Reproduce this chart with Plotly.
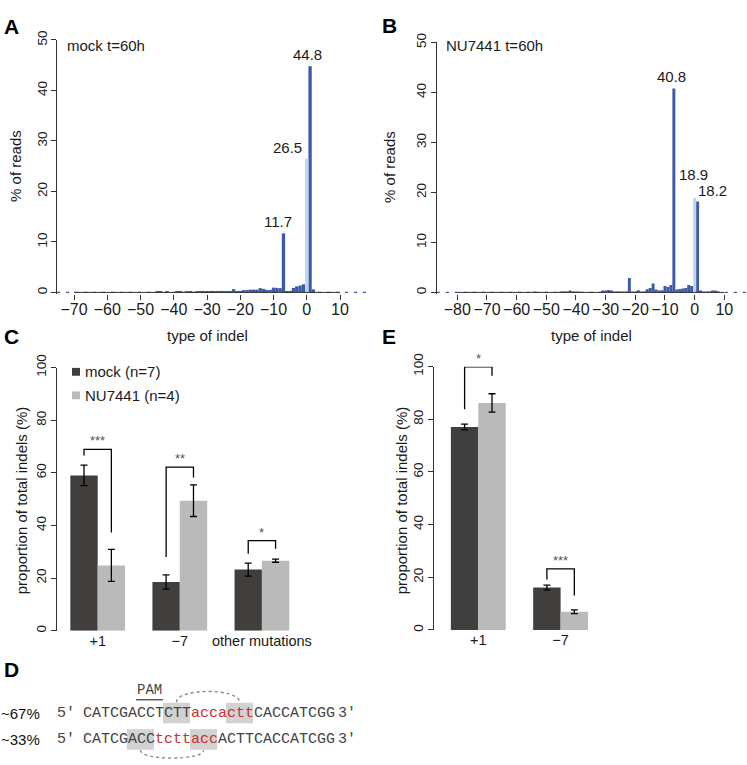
import plotly.graph_objects as go

W, H = 747, 765
FONT = "Liberation Sans, Arial, Helvetica, sans-serif"
MONO = "Liberation Mono, Courier New, monospace"
DARK_BLUE = "#3d5aa8"
LIGHT_BLUE = "#bcd6ec"
DARK_GREY = "#403f3d"
LIGHT_GREY = "#bababa"
TXT = "#1a1a1a"
AX = "#333333"
RED = "#cc2f2f"

# ---------------- data ----------------
# Panel A: mock t=60h, % of reads per indel size
a_sizes = [-45, -44, -43, -42, -41, -40, -39, -38, -37, -36,
           -35, -34, -33, -32, -31, -30, -29, -28, -27, -26,
           -25, -24, -23, -22, -21, -20, -19, -18, -17, -16,
           -15, -14, -13, -12, -11, -10, -9, -8, -7, -6,
           -5, -4, -3, -2, -1, 1, 2]
a_pct = [0.1, 0.1, 0.05, 0.1, 0.0, 0.05, 0.1, 0.1, 0.0, 0.1,
         0.1, 0.05, 0.15, 0.15, 0.2, 0.2, 0.1, 0.15, 0.2, 0.3,
         0.25, 0.25, 0.2, 0.65, 0.3, 0.3, 0.45, 0.45, 0.55, 0.55,
         0.55, 0.85, 0.7, 0.5, 0.5, 0.95, 0.9, 0.85, 11.7, 0.25,
         0.3, 0.9, 1.2, 1.35, 1.6, 44.8, 0.6]
a_zero_pct = 26.5

# Panel B: NU7441 t=60h
b_sizes = [-54, -45, -44, -43, -42, -41, -40, -39,
           -31, -30, -29, -28, -27, -26, -25, -24, -23,
           -22, -21, -20, -19, -18, -17, -16, -15, -14, -13, -12,
           -11, -10, -9, -8, -7, -6, -5, -4, -3, -2, -1,
           1, 2, 3, 4, 5, 6, 7, 8]
b_pct = [0.1, 0.1, 0.1, 0.15, 0.3, 0.1, 0.1, 0.05,
         0.3, 0.4, 0.5, 0.3, 0.2, 0.2, 0.2, 0.2, 0.2,
         2.9, 0.1, 0.2, 0.45, 0.2, 0.2, 0.65, 0.9, 1.8, 0.6, 0.4,
         0.45, 1.3, 1.1, 1.5, 40.8, 0.6, 0.7, 0.8, 0.9, 1.5, 1.3,
         18.2, 0.25, 0.1, 0.1, 0.05, 0.25, 0.25, 0.1]
b_zero_pct = 18.9

a_xticks = [-70, -60, -50, -40, -30, -20, -10, 0, 10]
b_xticks = [-80, -70, -60, -50, -40, -30, -20, -10, 0, 10]
hist_yticks = [0, 10, 20, 30, 40, 50]

# Panel C
c_categories = ["+1", "\u22127", "other mutations"]
c_mock = [59.0, 18.5, 23.2]
c_mock_err = [3.9, 2.7, 2.5]
c_nu = [24.8, 49.4, 26.6]
c_nu_err = [6.1, 6.0, 0.6]
c_sig_left = [66.6, 28.0, 29.2]
c_sig_top = [68.9, 62.2, 34.2]
c_sig_right = [37.3, 58.2, 31.1]
c_sig_label = ["***", "**", "*"]

# Panel E
e_categories = ["+1", "\u22127"]
e_mock = [77.1, 16.1]
e_mock_err = [1.1, 0.9]
e_nu = [86.2, 6.9]
e_nu_err = [3.5, 0.7]
e_sig_left = [83.8, 19.2]
e_sig_top = [99.9, 23.2]
e_sig_right = [96.5, 13.1]
e_sig_label = ["*", "***"]

prop_yticks = [0, 20, 40, 60, 80, 100]
series_names = ["mock (n=7)", "NU7441 (n=4)"]

# Panel D
d_pct = ["~67%", "~33%"]
d_seqs = ["CATCGACCTCTTaccacttCACCATCGG", "CATCGACCtcttaccACTTCACCATCGG"]
d_boxes = [[(9, 12), (16, 19)], [(5, 8), (12, 15)]]
d_pam = (6, 9)


# ---------------- helpers ----------------
def X(px):
    return px / W


def Y(py):
    return 1 - py / H


def span(p0, v0, p1, v1, r0, r1):
    s = (p1 - p0) / (v1 - v0)
    return p0 + (r0 - v0) * s, p0 + (r1 - v0) * s


def minus(v):
    return str(v).replace("-", "\u2212")


fig = go.Figure()
ann = []
shapes = []

# ranges / domains (pixel calibrations)
a_xr = [-75.1, 19.0]
a_xd = span(74, -70, 340, 10, *a_xr)
a_yr = [-0.3, 50]
a_yd = span(285, 0, 27.5, 50, *a_yr)

b_xr = [-86.9, 17.6]
b_xd = span(457.3, -80, 724.3, 10, *b_xr)
b_yr = [-0.3, 50]
b_yd = span(285, 0, 30, 50, *b_yr)

c_xr = [-0.5, 3.3]
c_xd = span(97.7, 0, 179.8, 1, *c_xr)
c_yr = [0, 100]
c_yd = span(630, 0, 361.7, 100, *c_yr)

e_xr = [-0.54, 3.2]
e_xd = span(478.3, 0, 560.6, 1, *e_xr)
e_yr = [0, 100]
e_yd = span(629.3, 0, 360.7, 100, *e_yr)

# ---------------- histograms ----------------
for ax, sizes, pct, zero, xr in [("", a_sizes, a_pct, a_zero_pct, a_xr),
                                 ("2", b_sizes, b_pct, b_zero_pct, b_xr)]:
    fig.add_trace(go.Scatter(x=xr, y=[0, 0], mode="lines",
                             line=dict(color=DARK_BLUE, width=1.3, dash="3px,6px"),
                             xaxis="x" + ax, yaxis="y" + ax, hoverinfo="skip"))
    fig.add_trace(go.Bar(x=sizes, y=pct, width=1, offset=-0.5,
                         marker=dict(color=DARK_BLUE, line=dict(width=0)),
                         xaxis="x" + ax, yaxis="y" + ax, name="indels"))
    fig.add_trace(go.Bar(x=[0], y=[zero], width=1, offset=-0.5,
                         marker=dict(color=LIGHT_BLUE, line=dict(width=0)),
                         xaxis="x" + ax, yaxis="y" + ax, name="0"))

# ---------------- grouped bars ----------------
bw = 1 / 3
for ax, cats, mock, merr, nu, nerr, sl, st, sr, lab in [
        ("3", c_categories, c_mock, c_mock_err, c_nu, c_nu_err,
         c_sig_left, c_sig_top, c_sig_right, c_sig_label),
        ("4", e_categories, e_mock, e_mock_err, e_nu, e_nu_err,
         e_sig_left, e_sig_top, e_sig_right, e_sig_label)]:
    idx = list(range(len(cats)))
    fig.add_trace(go.Bar(x=idx, y=mock, width=bw, offset=-bw, name=series_names[0],
                         marker=dict(color=DARK_GREY, line=dict(width=0)),
                         error_y=dict(type="data", array=merr, color="black",
                                      thickness=1.3, width=3.5),
                         xaxis="x" + ax, yaxis="y" + ax))
    fig.add_trace(go.Bar(x=idx, y=nu, width=bw, offset=0, name=series_names[1],
                         marker=dict(color=LIGHT_GREY, line=dict(width=0)),
                         error_y=dict(type="data", array=nerr, color="black",
                                      thickness=1.3, width=3.5),
                         xaxis="x" + ax, yaxis="y" + ax))
    for i in idx:
        xl, xr_ = i - bw / 2, i + bw / 2
        fig.add_trace(go.Scatter(x=[xl, xl, xr_, xr_], y=[sl[i], st[i], st[i], sr[i]],
                                 mode="lines", line=dict(color="black", width=1.3),
                                 xaxis="x" + ax, yaxis="y" + ax, hoverinfo="skip"))
        ann.append(dict(x=i, y=st[i], text=lab[i], showarrow=False,
                        xref="x" + ax, yref="y" + ax, yanchor="bottom", yshift=-1,
                        font=dict(size=13, color="#555555", family=FONT)))

# ---------------- axes ----------------
yax = dict(showline=True, linecolor=AX, linewidth=1, ticks="outside", ticklen=5,
           tickcolor=AX, tickwidth=1, tickangle=-90, showgrid=False, zeroline=False,
           ticklabelstandoff=-1, tickfont=dict(size=13.5, color=TXT))
xhist = dict(showline=False, ticks="outside", ticklen=5, tickcolor=AX, tickwidth=1,
             showgrid=False, zeroline=False, ticklabelstandoff=-4, tickangle=0,
             tickfont=dict(size=16, color=TXT))
xbar = dict(showline=False, ticks="", showgrid=False, zeroline=False, tickangle=0,
            ticklabelstandoff=0, tickfont=dict(size=14.5, color=TXT))

fig.update_layout(
    xaxis=dict(xhist, domain=[X(a_xd[0]), X(a_xd[1])], range=a_xr,
               tickvals=a_xticks, ticktext=[minus(v) for v in a_xticks], anchor="y"),
    yaxis=dict(yax, domain=[Y(a_yd[0]), Y(a_yd[1])], range=a_yr,
               tickvals=hist_yticks, anchor="x"),
    xaxis2=dict(xhist, domain=[X(b_xd[0]), X(b_xd[1])], range=b_xr,
                tickvals=b_xticks, ticktext=[minus(v) for v in b_xticks], anchor="y2"),
    yaxis2=dict(yax, domain=[Y(b_yd[0]), Y(b_yd[1])], range=b_yr,
                tickvals=hist_yticks, anchor="x2"),
    xaxis3=dict(xbar, domain=[X(c_xd[0]), X(c_xd[1])], range=c_xr,
                tickvals=list(range(len(c_categories))), ticktext=c_categories, anchor="y3"),
    yaxis3=dict(yax, domain=[Y(c_yd[0]), Y(c_yd[1])], range=c_yr,
                tickvals=prop_yticks, anchor="x3"),
    xaxis4=dict(xbar, domain=[X(e_xd[0]), X(e_xd[1])], range=e_xr,
                tickvals=list(range(len(e_categories))), ticktext=e_categories, anchor="y4"),
    yaxis4=dict(yax, domain=[Y(e_yd[0]), Y(e_yd[1])], range=e_yr,
                tickvals=prop_yticks, anchor="x4"),
)

# R-style x axis lines for histograms
shapes.append(dict(type="line", xref="x", yref="y", x0=a_xticks[0], x1=a_xticks[-1],
                   y0=0, y1=0, line=dict(color=AX, width=1)))
shapes.append(dict(type="line", xref="x2", yref="y2", x0=b_xticks[0], x1=b_xticks[-1],
                   y0=0, y1=0, line=dict(color=AX, width=1)))


def text(px, py, s, size=15, xanchor="left", yanchor="middle", color=TXT, family=FONT,
         angle=0, weight="normal"):
    ann.append(dict(x=X(px), y=Y(py), xref="paper", yref="paper", text=s, showarrow=False,
                    xanchor=xanchor, yanchor=yanchor, textangle=angle,
                    font=dict(size=size, color=color, family=family, weight=weight)))


# panel letters
for lt, lx, ly in [("A", 2, 14), ("B", 380, 13), ("C", 2, 330), ("E", 380, 330), ("D", 2, 670)]:
    text(lx, ly, lt, size=21, weight="bold", color="#000000")

# hist inner titles
text(65, 33.5, "mock t=60h")
text(444, 33.5, "NU7441 t=60h")

# axis titles
text(16, 156, "% of reads", size=15, xanchor="center", angle=-90)
text(390, 157, "% of reads", size=15, xanchor="center", angle=-90)
text(207, 329, "type of indel", xanchor="center")
text(591, 329, "type of indel", xanchor="center")
text(21, 497, "proportion of total indels (%)", size=15, xanchor="center", angle=-90)
text(401, 497, "proportion of total indels (%)", size=15, xanchor="center", angle=-90)

# histogram value labels
a_lookup = dict(zip(a_sizes, a_pct))
b_lookup = dict(zip(b_sizes, b_pct))
for xv, yv, xa, xs, ys, ax in [
        (1, a_lookup[1], "center", -3, 1, ""),
        (-0.5, a_zero_pct, "right", -1, 1, ""),
        (-7, a_lookup[-7], "center", -5, 1, ""),
        (-7, b_lookup[-7], "center", -2, 1, "2"),
        (0, b_zero_pct, "center", -1, 13, "2"),
        (0.5, b_lookup[1], "left", 0, 0, "2")]:
    ann.append(dict(x=xv, y=yv, xref="x" + ax, yref="y" + ax, text=f"{yv:.1f}",
                    showarrow=False, xanchor=xa, yanchor="bottom", xshift=xs, yshift=ys,
                    font=dict(size=15, color=TXT, family=FONT)))

# legend for C
for k, (name, col) in enumerate(zip(series_names, [DARK_GREY, LIGHT_GREY])):
    cy = 366 + 24 * k
    shapes.append(dict(type="rect", xref="paper", yref="paper",
                       x0=X(72), x1=X(80), y0=Y(cy + 4), y1=Y(cy - 4),
                       fillcolor=col, line=dict(width=0)))
    text(83, cy, name, size=15)

# ---------------- panel D ----------------
CH = 9.0
SX = 82
rows_y = [714, 741]
for r, (pct, seq, boxes) in enumerate(zip(d_pct, d_seqs, d_boxes)):
    cy = rows_y[r]
    for (i0, i1) in boxes:
        shapes.append(dict(type="rect", xref="paper", yref="paper", layer="below",
                           x0=X(SX + CH * i0), x1=X(SX + CH * i1),
                           y0=Y(cy + 10.5), y1=Y(cy - 10.5),
                           fillcolor="#d2d2d2", line=dict(width=0)))
    text(-1, cy, pct, size=15, color="#111111")
    text(55, cy, "5\u2032", size=15, family=MONO, color="#444444")
    text(336, cy, "3\u2032", size=15, family=MONO, color="#444444")
    parts, cur, low = [], "", None
    for ch in seq:
        isl = ch.islower()
        if low is None or isl == low:
            cur += ch
        else:
            parts.append((cur, low))
            cur = ch
        low = isl
    parts.append((cur, low))
    rich = "".join(f"<span style='color:{RED}'>{p}</span>" if l else p for p, l in parts)
    text(SX - 1, cy, rich, size=15, family=MONO, color="#444444")

# PAM
text(SX + CH * (d_pam[0] + d_pam[1]) / 2, 691, "PAM", size=14, family=MONO,
     color="#444444", xanchor="center")
shapes.append(dict(type="line", xref="paper", yref="paper",
                   x0=X(SX + CH * d_pam[0]), x1=X(SX + CH * d_pam[1]),
                   y0=Y(700.5), y1=Y(700.5), line=dict(color="#444444", width=1.3)))


def arc(xa, xb, ybase, h):
    k = 4 / 3 * h
    return (f"M {X(xa)},{Y(ybase)} C {X(xa)},{Y(ybase - k)} "
            f"{X(xb)},{Y(ybase - k)} {X(xb)},{Y(ybase)}")


b1 = d_boxes[0]
shapes.append(dict(type="path", xref="paper", yref="paper",
                   path=arc(SX + CH * (b1[0][0] + b1[0][1]) / 2, SX + CH * (b1[1][0] + b1[1][1]) / 2,
                            703, 11),
                   line=dict(color="#888888", width=1.4, dash="dot")))
b2 = d_boxes[1]
shapes.append(dict(type="path", xref="paper", yref="paper",
                   path=arc(SX + CH * (b2[0][0] + b2[0][1]) / 2, SX + CH * (b2[1][0] + b2[1][1]) / 2,
                            752, -8),
                   line=dict(color="#888888", width=1.4, dash="dot")))

fig.update_layout(
    width=W, height=H, margin=dict(l=0, r=0, t=0, b=0),
    paper_bgcolor="white", plot_bgcolor="white", showlegend=False,
    barmode="overlay", font=dict(family=FONT, size=15, color=TXT),
    shapes=shapes, annotations=ann,
)

fig.write_html("out.html", config={"displayModeBar": False},
               post_script="document.body.style.margin='0';")
